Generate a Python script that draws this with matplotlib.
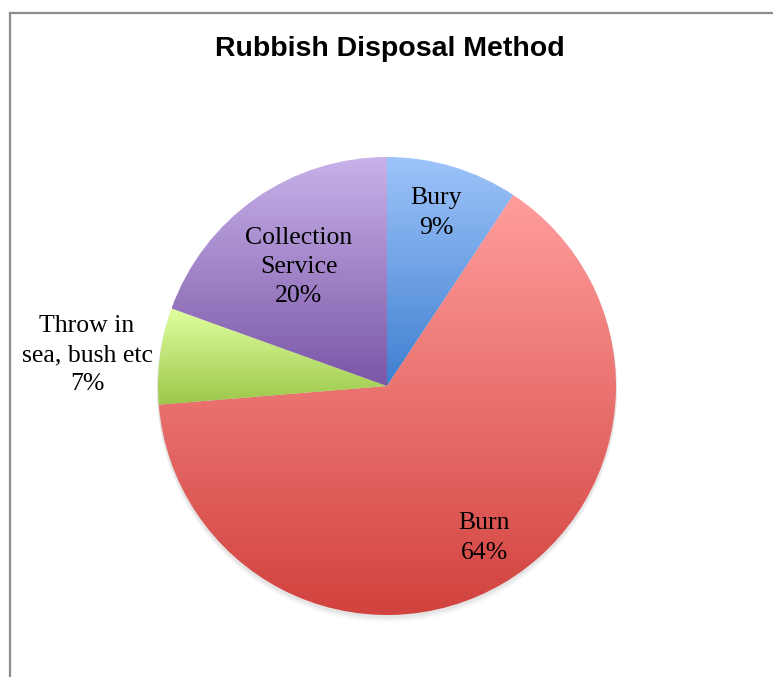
import numpy as np
import matplotlib.pyplot as plt
from matplotlib.colors import to_rgb
from matplotlib.lines import Line2D
from matplotlib.patches import Circle

# data
labels = ['Bury', 'Burn', 'Throw in\nsea, bush etc', 'Collection\nService']
shares = [9.3, 64.4, 6.8, 19.5]
top_colors = ['#9ec4fa', '#ff9e9c', '#e0ffa0', '#c8b2ea']
bottom_colors = ['#3f7fd0', '#d2423e', '#9cc74a', '#7a56a6']
label_pos = [(436, 213), (484, 538), (87, 355), (299, 267)]

W, H = 773, 677
fig = plt.figure(figsize=(W / 100, H / 100), dpi=100)
ax = fig.add_axes([0, 0, 1, 1])

cx, cy, r = 387, H - 386, 229

# soft shadow under the pie
for k, a in zip([6, 4, 2], [0.05, 0.07, 0.09]):
    ax.add_patch(Circle((cx, cy - k), r + 1, facecolor='#808080', edgecolor='none', alpha=a, zorder=1))

wedges, _ = ax.pie(shares, startangle=90, counterclock=False, center=(cx, cy), radius=r,
                   frame=True, wedgeprops=dict(linewidth=0))
ax.set_xlim(0, W)
ax.set_ylim(0, H)
ax.set_aspect('equal')
ax.axis('off')

# vertical gradient fill per slice, lighter at the top
for w, c0, c1 in zip(wedges, top_colors, bottom_colors):
    w.set_facecolor('none')
    ext = w.get_path().get_extents()
    t = np.linspace(0, 1, 256)[:, None, None]
    grad = np.array(to_rgb(c1)) * (1 - t) + np.array(to_rgb(c0)) * t
    grad = np.repeat(grad, 2, axis=1)
    im = ax.imshow(grad, extent=(ext.x0, ext.x1, ext.y0, ext.y1), origin='lower',
                   aspect='auto', zorder=2, interpolation='bilinear')
    im.set_clip_path(w)

for lab, s, (x, y) in zip(labels, shares, label_pos):
    ax.text(x, H - y, f'{lab}\n{round(s)}%', ha='center', va='center',
            family='Liberation Serif', fontsize=18.5, linespacing=1.42, zorder=5)

ax.text(390, H - 56, 'Rubbish Disposal Method', ha='center', va='baseline',
        family='Liberation Sans', fontweight='bold', fontsize=20.5, zorder=5)

# chart frame
fig.add_artist(Line2D([9.5 / W, 1], [1 - 12.5 / H, 1 - 12.5 / H], color='#8c8c8c', lw=1.6))
fig.add_artist(Line2D([9.5 / W, 9.5 / W], [0, 1 - 12.5 / H], color='#8c8c8c', lw=1.6))

fig.savefig('out.png', dpi=100)
